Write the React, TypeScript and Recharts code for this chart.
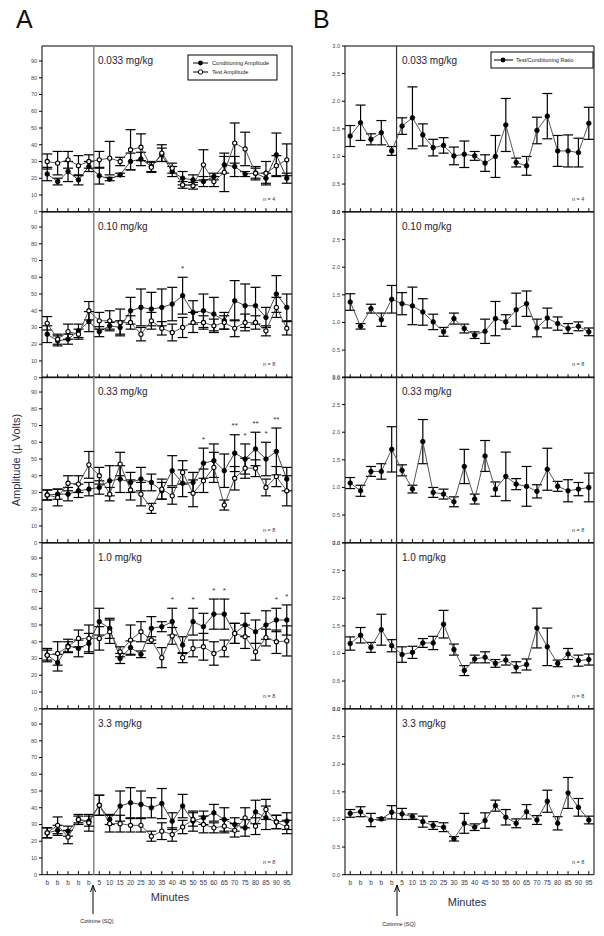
import React from "react";
import { ComposedChart, Line, ErrorBar, XAxis, YAxis, ReferenceLine, ReferenceArea } from "recharts";

const xLabels = ["b", "b", "b", "b", "b", "5", "10", "15", "20", "25", "30", "35", "40", "45", "50", "55", "60", "65", "70", "75", "80", "85", "90", "95"];
const doses = ["0.033 mg/kg", "0.10 mg/kg", "0.33 mg/kg", "1.0 mg/kg", "3.3 mg/kg"];
const nLabels = ["n = 4", "n = 8", "n = 8", "n = 8", "n = 8"];

// A: conditioning / test amplitude (µV), mean and SEM
const cond033 = [22.5, 18, 24, 19, 27, 21.5, 19.5, 22, 30, 31.5, 27, 34, 24, 20, 19, 18, 21, 28, 27, 22.5, 23, 20, 34, 20];
const condErr033 = [4, 2, 6, 3, 3, 5, 1, 1, 5, 4, 3, 4, 3, 4, 3, 3, 2, 5, 6, 1.5, 3, 3, 13, 3];
const test033 = [30, 29, 31, 27.5, 30, 31, 32, 30, 37, 38.5, 26.5, 35, 26, 16, 15.5, 28, 18, 23.5, 41, 37.5, 23, 23, 27.5, 31];
const testErr033 = [4.5, 7, 5, 6, 4, 5, 10, 2.5, 12, 8, 3, 5, 3, 2, 2, 9, 3, 11.5, 12, 10, 4, 7, 6, 9.5];

const cond010 = [26, 22, 23, 28, 33.5, 27.5, 31, 30, 40, 42, 41, 42, 44, 49, 39, 40, 38, 34, 46, 43, 43, 36, 50, 42];
const condErr010 = [5, 3, 3, 4, 6, 3, 2, 4, 8, 11, 10, 11, 10, 11, 7, 10, 10, 5, 12, 13, 11, 6, 11, 8];
const test010 = [32.5, 23, 27.5, 26, 40, 34, 34, 33, 33, 26, 34, 29.5, 27, 30, 33, 33, 31, 33, 29.5, 33, 33, 28, 42, 29.5];
const testErr010 = [4, 3, 4.5, 3, 5.5, 5, 6, 8, 4, 4, 5, 4, 5, 6, 6, 4, 4, 4, 5, 5, 4, 3, 6, 4];

const cond033b = [28.5, 29, 29, 31, 32, 33, 37, 38, 36, 38, 36, 31, 43, 35.5, 36, 47.5, 49, 43, 53.5, 50, 56, 50, 54.5, 38];
const condErr033b = [3, 3, 4, 4, 4, 4, 9, 8, 6, 7, 5, 5, 9, 8, 6, 9, 10, 10, 11, 9, 10, 10, 14, 7];
const test033b = [28.5, 27, 35.5, 35, 46.5, 40, 29, 47, 31.5, 29, 20.5, 32, 28, 42, 29.5, 37, 45, 22.5, 38.5, 44.5, 44.5, 33, 39.5, 31];
const testErr033b = [3, 5, 4.5, 5, 8, 5, 4, 7, 6, 7, 3, 6, 5, 7, 8, 7, 9, 3, 7, 6, 5, 5, 6, 9];

const cond10 = [32, 27.5, 37.5, 36, 39, 52, 48, 30, 36.5, 32.5, 48, 49, 52, 38, 52, 49, 56.5, 56.5, 45, 50, 46, 50, 53, 53];
const condErr10 = [4, 5, 4, 5, 6, 8, 6, 3, 4, 2, 7, 3, 8, 5, 8, 8, 9, 9, 6, 7, 7, 8.5, 7, 9];
const test10 = [32, 33, 37, 42, 42, 42, 46, 34, 41, 46, 41, 30.5, 43.5, 30.5, 36, 37, 33, 36, 45, 43, 34, 42.5, 40, 40.5];
const testErr10 = [3, 7, 3, 5, 8, 7, 7, 3, 9, 6, 2, 6, 5, 3, 5, 8, 7, 5, 6, 7, 5, 5, 7, 9];

const cond33 = [25, 26.5, 26, 33, 32, 41.5, 33, 41, 43, 42, 40, 42.5, 32, 41, 32, 34, 37, 33, 30, 28, 37.5, 34, 31.5, 32];
const condErr33 = [3, 3, 3, 2, 3, 6, 3, 9, 9, 8, 6, 9, 5, 7, 6, 4, 5, 7, 4, 5, 7, 7, 4, 5];
const test33 = [25, 29.5, 22.5, 33, 31, 41.5, 30.5, 30.5, 29.5, 29.5, 23, 26, 24, 28.5, 33, 30, 28, 29, 26.5, 34, 29, 39, 31.5, 28.5];
const testErr33 = [3, 5, 4, 3, 5, 6, 5, 5, 4, 4, 3, 5, 4, 4, 4, 5, 3, 4, 4, 6, 5, 6, 4, 4];

// significance marks: [index, text]
const stars033: [number, string][] = [];
const stars010: [number, string][] = [[13, "*"]];
const stars033b: [number, string][] = [[15, "*"], [18, "**"], [19, "*"], [20, "**"], [21, "*"], [22, "**"]];
const stars10: [number, string][] = [[12, "*"], [14, "*"], [16, "*"], [17, "*"], [22, "*"], [23, "*"]];
const stars33: [number, string][] = [];

// B: test/conditioning ratio, mean and SEM
const ratio033 = [1.37, 1.61, 1.31, 1.43, 1.10, 1.55, 1.70, 1.39, 1.16, 1.20, 1.01, 1.04, 1.01, 0.88, 1.00, 1.57, 0.89, 0.83, 1.47, 1.73, 1.10, 1.10, 1.07, 1.60];
const ratioErr033 = [0.19, 0.32, 0.1, 0.22, 0.08, 0.15, 0.56, 0.2, 0.15, 0.14, 0.16, 0.24, 0.08, 0.15, 0.38, 0.48, 0.08, 0.17, 0.24, 0.41, 0.28, 0.29, 0.26, 0.29];
const ratio010 = [1.37, 0.93, 1.25, 1.05, 1.42, 1.34, 1.30, 1.19, 1.01, 0.83, 1.07, 0.89, 0.77, 0.84, 1.07, 1.01, 1.23, 1.34, 0.90, 1.08, 0.98, 0.89, 0.93, 0.83];
const ratioErr010 = [0.15, 0.05, 0.08, 0.12, 0.25, 0.2, 0.34, 0.24, 0.14, 0.08, 0.1, 0.08, 0.06, 0.22, 0.31, 0.13, 0.3, 0.23, 0.16, 0.18, 0.12, 0.09, 0.08, 0.07];
const ratio033b = [1.08, 0.94, 1.29, 1.29, 1.69, 1.31, 0.97, 1.83, 0.91, 0.88, 0.74, 1.38, 0.79, 1.57, 0.97, 1.20, 1.06, 1.02, 0.93, 1.33, 1.02, 0.94, 0.97, 1.00];
const ratioErr033b = [0.1, 0.1, 0.09, 0.14, 0.41, 0.1, 0.07, 0.4, 0.09, 0.09, 0.09, 0.31, 0.09, 0.28, 0.13, 0.44, 0.1, 0.36, 0.12, 0.38, 0.09, 0.2, 0.12, 0.26];
const ratio10 = [1.18, 1.33, 1.11, 1.43, 1.14, 0.98, 1.02, 1.19, 1.19, 1.53, 1.07, 0.69, 0.90, 0.93, 0.82, 0.88, 0.75, 0.80, 1.46, 1.12, 0.82, 0.99, 0.87, 0.89];
const ratioErr10 = [0.12, 0.14, 0.09, 0.28, 0.11, 0.14, 0.11, 0.08, 0.12, 0.25, 0.1, 0.09, 0.07, 0.1, 0.07, 0.09, 0.1, 0.1, 0.36, 0.34, 0.06, 0.1, 0.1, 0.1];
const ratio33 = [1.11, 1.14, 0.99, 1.01, 1.13, 1.10, 1.05, 0.96, 0.89, 0.86, 0.65, 0.93, 0.86, 0.98, 1.25, 1.04, 0.93, 1.14, 0.99, 1.33, 0.93, 1.48, 1.22, 0.99];
const ratioErr33 = [0.07, 0.09, 0.12, 0.02, 0.12, 0.1, 0.05, 0.1, 0.07, 0.08, 0.04, 0.18, 0.06, 0.14, 0.1, 0.14, 0.08, 0.13, 0.08, 0.2, 0.12, 0.28, 0.16, 0.07];

const ampSets = [
  [cond033, condErr033, test033, testErr033, stars033],
  [cond010, condErr010, test010, testErr010, stars010],
  [cond033b, condErr033b, test033b, testErr033b, stars033b],
  [cond10, condErr10, test10, testErr10, stars10],
  [cond33, condErr33, test33, testErr33, stars33],
] as const;
const ratioSets = [
  [ratio033, ratioErr033],
  [ratio010, ratioErr010],
  [ratio033b, ratioErr033b],
  [ratio10, ratioErr10],
  [ratio33, ratioErr33],
];

const FONT = "'Liberation Sans', Arial, sans-serif";
const PH = 165.7;
const panelTop = (k: number) => 46 + k * PH;
const xTicks = xLabels.map((_, i) => i);
const ampTicks = [0, 10, 20, 30, 40, 50, 60, 70, 80, 90];
const ratioTicks = [0, 0.5, 1, 1.5, 2, 2.5, 3];

function makeXTick(showLabel: boolean) {
  return (p: any) => (
    <g key={`t${p.index}`}>
      <line x1={p.x} x2={p.x} y1={p.y} y2={p.y - 3.5} stroke="#000" strokeWidth={1} />
      {showLabel && (
        <text x={p.x} y={p.y + 10} textAnchor="middle" fontSize={6.5} fill="#333a4a" fontFamily={FONT}>
          {xLabels[p.payload.value]}
        </text>
      )}
    </g>
  );
}

function Panel({ k, col }: { k: number; col: "A" | "B" }) {
  const bottom = k === 4;
  const axisH = bottom ? 22 : 6;
  let data: any[];
  if (col === "A") {
    const [c, ce, t, te, st] = ampSets[k];
    data = xLabels.map((_, i) => {
      const s = st.find((x) => x[0] === i);
      return { i, cond: c[i], condErr: ce[i], test: t[i], testErr: te[i], star: s ? s[1] : null, starY: s ? c[i] + ce[i] + 6.5 : null };
    });
  } else {
    const [r, re] = ratioSets[k];
    data = xLabels.map((_, i) => ({ i, ratio: r[i], ratioErr: re[i] }));
  }
  const yMax = col === "A" ? 99 : 3;
  return (
    <div style={{ position: "absolute", left: col === "A" ? 0 : 303, top: panelTop(k) - 6 }}>
      <ComposedChart width={col === "A" ? 300 : 299} height={PH + 6 + axisH} data={data} margin={{ top: 6, right: 8, left: 12, bottom: 0 }}>
        <XAxis type="number" dataKey="i" domain={[-0.5, 23.5]} allowDataOverflow ticks={xTicks} interval={0} tick={makeXTick(bottom)} tickLine={false} axisLine={false} tickSize={0} tickMargin={0} height={axisH} />
        <YAxis
          type="number"
          domain={[0, yMax]}
          allowDataOverflow
          ticks={col === "A" ? ampTicks : ratioTicks}
          interval={0}
          width={30}
          axisLine={false}
          tickLine={{ stroke: "#000" }}
          tickSize={3}
          tickMargin={2}
          tick={{ fontSize: 5.5, fill: "#3a4660", fontFamily: FONT }}
          tickFormatter={(v: number) => (col === "A" ? String(v) : v.toFixed(1))}
        />
        <ReferenceArea x1={-0.5} x2={23.5} y1={0} y2={yMax} fill="none" stroke="#000" strokeWidth={1} />
        <ReferenceLine x={4.47} stroke={col === "A" ? "#8a8a8a" : "#333"} strokeWidth={col === "A" ? 1.6 : 1.2} />
        {col === "A" ? (
          [
            <Line key="c" dataKey="cond" stroke="#444" strokeWidth={1} isAnimationActive={false} dot={{ r: 2.3, fill: "#000", stroke: "#000", strokeWidth: 0.8 }} activeDot={false}>
              <ErrorBar dataKey="condErr" width={5} stroke="#000" strokeWidth={1.2} direction="y" />
            </Line>,
            <Line key="t" dataKey="test" stroke="#555" strokeWidth={1} isAnimationActive={false} dot={{ r: 2.1, fill: "#fff", stroke: "#000", strokeWidth: 1.1 }} activeDot={false}>
              <ErrorBar dataKey="testErr" width={5} stroke="#000" strokeWidth={1.2} direction="y" />
            </Line>,
            <Line
              key="s"
              dataKey="starY"
              stroke="none"
              isAnimationActive={false}
              activeDot={false}
              dot={(p: any) =>
                p.payload.star && p.cy != null ? (
                  <text key={`s${p.index}`} x={p.cx} y={p.cy + 4.5} textAnchor="middle" fontSize={8} fill="#333" fontFamily={FONT}>
                    {p.payload.star}
                  </text>
                ) : (
                  <g key={`s${p.index}`} />
                )
              }
            />,
          ]
        ) : (
          <Line dataKey="ratio" stroke="#555" strokeWidth={1} isAnimationActive={false} dot={{ r: 2.3, fill: "#000", stroke: "#000", strokeWidth: 0.8 }} activeDot={false}>
            <ErrorBar dataKey="ratioErr" width={5} stroke="#000" strokeWidth={1.2} direction="y" />
          </Line>
        )}
      </ComposedChart>
    </div>
  );
}

export default function App() {
  const ks = [0, 1, 2, 3, 4];
  return (
    <div style={{ position: "absolute", left: 0, top: 0, width: 604, height: 936, background: "#fff", fontFamily: FONT }}>
      {ks.map((k) => (
        <Panel key={`a${k}`} k={k} col="A" />
      ))}
      {ks.map((k) => (
        <Panel key={`b${k}`} k={k} col="B" />
      ))}
      <svg width={604} height={936} style={{ position: "absolute", left: 0, top: 0, pointerEvents: "none" }} fontFamily={FONT}>
        <text x={16} y={28} fontSize={25} fill="#111">A</text>
        <text x={313} y={28} fontSize={25} fill="#111">B</text>
        {ks.map((k) => (
          <g key={`lab${k}`}>
            <text x={98} y={panelTop(k) + 18} fontSize={10} fill="#1c2233">{doses[k]}</text>
            <text x={402} y={panelTop(k) + 18} fontSize={10} fill="#1c2233">{doses[k]}</text>
            <text x={263} y={panelTop(k) + PH - 11} fontSize={5.5} fill="#333a4a">{nLabels[k]}</text>
            <text x={572} y={panelTop(k) + PH - 11} fontSize={5.5} fill="#333a4a">{nLabels[k]}</text>
          </g>
        ))}
        {/* legends */}
        <rect x={188} y={55} width={89} height={25} fill="#fff" stroke="#000" strokeWidth={1} />
        <line x1={193} x2={208} y1={63} y2={63} stroke="#000" />
        <circle cx={200.5} cy={63} r={2.4} fill="#000" />
        <text x={212} y={65} fontSize={5.6} fill="#222">Conditioning Amplitude</text>
        <line x1={193} x2={208} y1={72} y2={72} stroke="#000" />
        <circle cx={200.5} cy={72} r={2.2} fill="#fff" stroke="#000" strokeWidth={1} />
        <text x={212} y={74} fontSize={5.6} fill="#222">Test Amplitude</text>

        <rect x={491} y={52} width={102} height={16} fill="#fff" stroke="#000" strokeWidth={1} />
        <line x1={494} x2={513} y1={60} y2={60} stroke="#000" />
        <circle cx={503} cy={60} r={2.4} fill="#000" />
        <text x={516} y={62} fontSize={5.6} fill="#222">Test/Conditioning Ratio</text>

        <text transform="translate(20,460) rotate(-90)" textAnchor="middle" fontSize={11} fill="#2a3048">Amplitude (µ Volts)</text>
        <text x={170} y={901} textAnchor="middle" fontSize={11} fill="#2a3048">Minutes</text>
        <text x={467} y={906} textAnchor="middle" fontSize={11} fill="#2a3048">Minutes</text>

        <line x1={93} x2={93} y1={914} y2={887} stroke="#000" strokeWidth={1} />
        <path d="M90.5 892 L93 885 L95.5 892" fill="none" stroke="#000" strokeWidth={1} />
        <text x={97} y={923} textAnchor="middle" fontSize={5.5} fill="#222">Cotinine (SQ)</text>
        <line x1={397} x2={397} y1={916} y2={887} stroke="#000" strokeWidth={1} />
        <path d="M394.5 892 L397 885 L399.5 892" fill="none" stroke="#000" strokeWidth={1} />
        <text x={399} y={926} textAnchor="middle" fontSize={5.5} fill="#222">Cotinine (SQ)</text>
      </svg>
    </div>
  );
}
